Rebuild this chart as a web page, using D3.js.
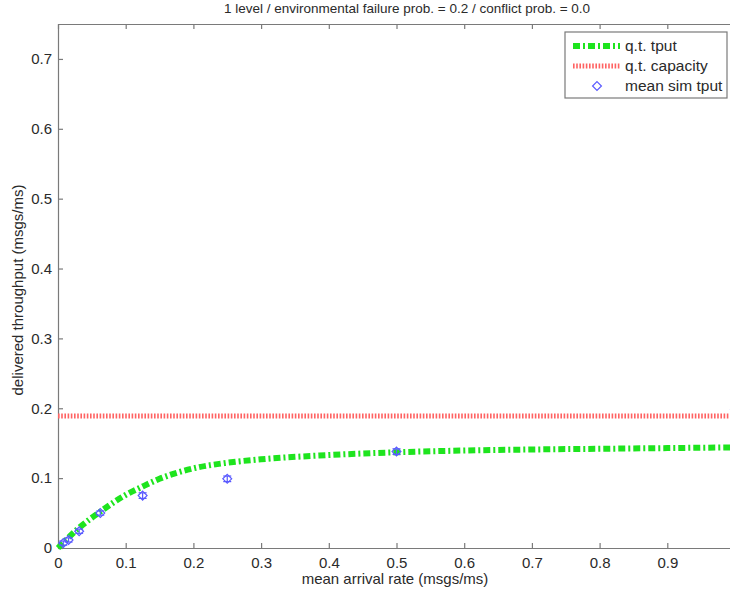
<!DOCTYPE html>
<html>
<head>
<meta charset="utf-8">
<script src="https://cdn.jsdelivr.net/npm/d3@7"></script>
<style>
  html, body { margin: 0; padding: 0; background: #fff; }
  svg { display: block; font-family: "Liberation Sans", Arial, Helvetica, sans-serif; }
</style>
</head>
<body>
<svg id="chart" width="730" height="594"></svg>
<script>
// Queueing-theory throughput curve (arrival rate -> delivered throughput)
const qtRate = [0, 0.0078, 0.0156, 0.03125, 0.0625, 0.1, 0.125, 0.15, 0.2, 0.25, 0.3, 0.4, 0.5, 0.6, 0.7, 0.8, 0.9, 1.0];
const qtTput = [0, 0.0076, 0.0150, 0.0290, 0.0520, 0.0760, 0.0880, 0.0990, 0.1140, 0.1220, 0.1270, 0.1330, 0.1370, 0.1395, 0.1410, 0.1420, 0.1430, 0.1440];

// Queueing-theory capacity (constant)
const qtCapacity = 0.189;

// Simulation means with error half-widths
const simRate = [0.0078, 0.0156, 0.03125, 0.0625, 0.125, 0.25, 0.5, 1.0];
const simTput = [0.0070, 0.0115, 0.0240, 0.0500, 0.0750, 0.0990, 0.1380, 0.1980];
const simErr  = [0.0030, 0.0030, 0.0030, 0.0030, 0.0040, 0.0040, 0.0040, 0.0040];

// Tick positions; the tick at 1 sits on the clipped right edge, so it carries no label
const xTicks = [0, 0.1, 0.2, 0.3, 0.4, 0.5, 0.6, 0.7, 0.8, 0.9, 1];
const xTickLabels = ["0", "0.1", "0.2", "0.3", "0.4", "0.5", "0.6", "0.7", "0.8", "0.9", ""];
const yTicks = [0, 0.1, 0.2, 0.3, 0.4, 0.5, 0.6, 0.7];
const yTickLabels = ["0", "0.1", "0.2", "0.3", "0.4", "0.5", "0.6", "0.7"];

const titleText = "1 level / environmental failure prob. = 0.2 / conflict prob. = 0.0";
const xLabel = "mean arrival rate (msgs/ms)";
const yLabel = "delivered throughput  (msgs/ms)";
const legendLabels = ["q.t. tput", "q.t. capacity", "mean sim tput"];

const svg = d3.select("#chart");
const plotL = 58, plotR = 735, plotT = 24, plotB = 548;

const x = d3.scaleLinear().domain([0, 1]).range([plotL, plotR]);
const y = d3.scaleLinear().domain([0, 0.75]).range([plotB, plotT]);

const axisColor = "#7a7a7a";
const textColor = "#2a2a2a";
const green = "#1ee41e";
const red = "#ff6262";
const blue = "#5a5aff";

// Axes with inward ticks on all four sides
function styleAxis(g) {
  g.selectAll(".domain").attr("stroke", axisColor).attr("stroke-width", 1.2);
  g.selectAll(".tick line").attr("stroke", axisColor).attr("stroke-width", 1.2);
  g.selectAll(".tick text").attr("fill", textColor).attr("font-size", 15)
    .attr("font-family", "Liberation Sans, Arial, sans-serif");
}
svg.append("g").attr("transform", `translate(0,${plotB})`)
  .call(d3.axisBottom(x).tickValues(xTicks).tickFormat((d, i) => xTickLabels[i])
    .tickSizeInner(-5).tickSizeOuter(0).tickPadding(9))
  .call(styleAxis);
svg.append("g").attr("transform", `translate(0,${plotT})`)
  .call(d3.axisTop(x).tickValues(xTicks).tickFormat("").tickSizeInner(-5).tickSizeOuter(0))
  .call(styleAxis);
svg.append("g").attr("transform", `translate(${plotL},0)`)
  .call(d3.axisLeft(y).tickValues(yTicks).tickFormat((d, i) => yTickLabels[i])
    .tickSizeInner(-5).tickSizeOuter(0).tickPadding(6))
  .call(styleAxis);
svg.append("g").attr("transform", `translate(${plotR},0)`)
  .call(d3.axisRight(y).tickValues(yTicks).tickFormat("").tickSizeInner(-5).tickSizeOuter(0))
  .call(styleAxis);

// Capacity line (dotted red)
svg.append("line")
  .attr("x1", x(0)).attr("x2", x(1))
  .attr("y1", y(qtCapacity)).attr("y2", y(qtCapacity))
  .attr("stroke", red).attr("stroke-width", 5)
  .attr("stroke-dasharray", "1.6,1.6");

// Throughput curve (dash-dot green)
const curve = qtRate.map((r, i) => [r, qtTput[i]]);
svg.append("path")
  .datum(curve)
  .attr("fill", "none")
  .attr("stroke", green).attr("stroke-width", 6)
  .attr("stroke-dasharray", "7,3,2,3")
  .attr("d", d3.line().x(d => x(d[0])).y(d => y(d[1])).curve(d3.curveMonotoneX));

// Simulation points with error bars
const sim = simRate.map((r, i) => ({ r, v: simTput[i], e: simErr[i] }));
const eb = svg.append("g").attr("stroke", blue).attr("stroke-width", 1.2).attr("fill", "none");
sim.forEach(d => {
  const cx = x(d.r);
  eb.append("line").attr("x1", cx).attr("x2", cx).attr("y1", y(d.v - d.e)).attr("y2", y(d.v + d.e));
  eb.append("line").attr("x1", cx - 4).attr("x2", cx + 4).attr("y1", y(d.v - d.e)).attr("y2", y(d.v - d.e));
  eb.append("line").attr("x1", cx - 4).attr("x2", cx + 4).attr("y1", y(d.v + d.e)).attr("y2", y(d.v + d.e));
});
const diamond = d3.symbol().type(d3.symbolDiamond2).size(50);
svg.append("g").selectAll("path").data(sim).join("path")
  .attr("d", diamond)
  .attr("transform", d => `translate(${x(d.r)},${y(d.v)})`)
  .attr("fill", "none").attr("stroke", blue).attr("stroke-width", 1.2);

// Legend
const lg = svg.append("g");
lg.append("rect").attr("x", 565).attr("y", 32).attr("width", 162).attr("height", 66)
  .attr("fill", "#fff").attr("stroke", axisColor).attr("stroke-width", 1.2);
const rows = [46, 66, 86];
lg.append("line").attr("x1", 573).attr("x2", 620).attr("y1", rows[0]).attr("y2", rows[0])
  .attr("stroke", green).attr("stroke-width", 6).attr("stroke-dasharray", "7,3,2,3");
lg.append("line").attr("x1", 573).attr("x2", 620).attr("y1", rows[1]).attr("y2", rows[1])
  .attr("stroke", red).attr("stroke-width", 5).attr("stroke-dasharray", "1.6,1.6");
lg.append("path").attr("d", diamond).attr("transform", `translate(597,${rows[2]})`)
  .attr("fill", "none").attr("stroke", blue).attr("stroke-width", 1.2);
legendLabels.forEach((t, i) => {
  lg.append("text").attr("x", 625).attr("y", rows[i]).attr("dy", "0.35em")
    .attr("font-size", 15.5).attr("fill", textColor).text(t);
});

// Titles
svg.append("text").attr("x", 407).attr("y", 13).attr("text-anchor", "middle")
  .attr("font-size", 13.5).attr("fill", textColor).text(titleText);
svg.append("text").attr("x", 395).attr("y", 584).attr("text-anchor", "middle")
  .attr("font-size", 15).attr("fill", textColor).text(xLabel);
svg.append("text").attr("transform", `translate(23,290) rotate(-90)`)
  .attr("text-anchor", "middle").attr("font-size", 15).attr("fill", textColor).text(yLabel);
</script>
</body>
</html>
